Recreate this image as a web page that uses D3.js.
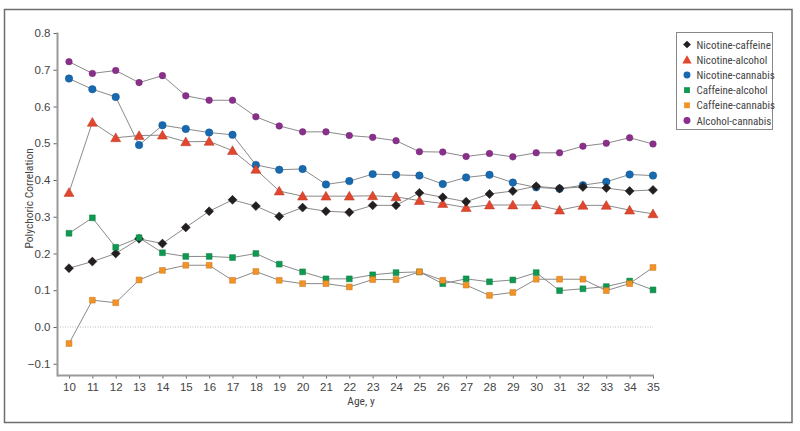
<!DOCTYPE html>
<html><head><meta charset="utf-8">
<script src="https://cdn.jsdelivr.net/npm/d3@7"></script>
<style>
body{margin:0;background:#fff;}
svg{display:block;font-family:"Liberation Sans Narrow","Arial Narrow","Roboto Condensed","Liberation Sans",sans-serif;}
</style></head>
<body><svg id="c" width="800" height="431"></svg>
<script>
const ages = d3.range(10, 36);
const nicotineCaffeine = [0.160,0.178,0.200,0.240,0.227,0.271,0.315,0.346,0.329,0.301,0.325,0.315,0.312,0.331,0.331,0.365,0.353,0.341,0.362,0.370,0.383,0.377,0.381,0.378,0.370,0.373];
const nicotineAlcohol = [0.366,0.557,0.515,0.521,0.522,0.504,0.505,0.480,0.429,0.370,0.356,0.356,0.356,0.357,0.354,0.344,0.336,0.325,0.332,0.332,0.332,0.318,0.331,0.331,0.318,0.308];
const nicotineCannabis = [0.676,0.647,0.626,0.495,0.549,0.539,0.529,0.523,0.441,0.428,0.430,0.388,0.397,0.416,0.414,0.412,0.389,0.407,0.414,0.393,0.380,0.376,0.386,0.395,0.415,0.412];
const caffeineAlcohol = [0.255,0.297,0.217,0.243,0.202,0.192,0.192,0.189,0.200,0.171,0.150,0.131,0.131,0.142,0.148,0.150,0.118,0.131,0.123,0.128,0.148,0.099,0.104,0.110,0.125,0.101];
const caffeineCannabis = [-0.045,0.073,0.066,0.128,0.154,0.168,0.168,0.127,0.151,0.127,0.118,0.118,0.109,0.129,0.129,0.150,0.127,0.114,0.086,0.094,0.130,0.130,0.130,0.099,0.118,0.162];
const alcoholCannabis = [0.722,0.690,0.698,0.665,0.684,0.629,0.617,0.617,0.572,0.547,0.531,0.531,0.521,0.516,0.507,0.477,0.476,0.464,0.472,0.463,0.474,0.474,0.492,0.500,0.515,0.498];
const yTicks = [-0.1,0,0.1,0.2,0.3,0.4,0.5,0.6,0.7,0.8];

const series = [
  {name:"Nicotine-caffeine", values:nicotineCaffeine, color:"#231f20", shape:"diamond"},
  {name:"Nicotine-alcohol", values:nicotineAlcohol, color:"#e2462c", shape:"triangle"},
  {name:"Nicotine-cannabis", values:nicotineCannabis, color:"#1769b0", shape:"bigcircle"},
  {name:"Caffeine-alcohol", values:caffeineAlcohol, color:"#0f9950", shape:"square"},
  {name:"Caffeine-cannabis", values:caffeineCannabis, color:"#f39325", shape:"square"},
  {name:"Alcohol-cannabis", values:alcoholCannabis, color:"#8b2f8c", shape:"circle"}
];
const drawOrder = [5,2,1,0,3,4];

const svg = d3.select("#c");
svg.append("rect").attr("x",4.5).attr("y",9.5).attr("width",787.5).attr("height",413)
  .attr("fill","none").attr("stroke","#6d6d6d").attr("stroke-width",1.5);

const x = d3.scaleLinear().domain([10,35]).range([69,653]);
const y = d3.scaleLinear().domain([-0.1,0.8]).range([363.75,33]);
const xLeft = 57.5, yBottom = 375.5;

svg.append("line").attr("x1",xLeft).attr("x2",653).attr("y1",y(0)).attr("y2",y(0))
  .attr("stroke","#aaa").attr("stroke-width",0.8).attr("stroke-dasharray","1,1.5");

const yAxis = d3.axisLeft(y).tickValues(yTicks).tickSize(4).tickPadding(3)
  .tickFormat(d => d3.format(".1f")(d).replace("-", "\u2212"));
const gy = svg.append("g").attr("transform",`translate(${xLeft},0)`).call(yAxis);
gy.select(".domain").remove();
svg.append("line").attr("x1",xLeft).attr("x2",xLeft).attr("y1",y(0.8)-0.5).attr("y2",yBottom+1)
  .attr("stroke","#9a9a9a").attr("stroke-width",2);
gy.selectAll(".tick line").attr("stroke","#666");
gy.selectAll("text").attr("font-size",11.5).attr("fill","#444");

const xAxis = d3.axisBottom(x).tickValues(ages).tickSize(3).tickPadding(4).tickFormat(d3.format("d"));
const gx = svg.append("g").attr("transform",`translate(0,${yBottom})`).call(xAxis);
gx.select(".domain").remove();
svg.append("line").attr("x1",xLeft).attr("x2",654).attr("y1",yBottom).attr("y2",yBottom)
  .attr("stroke","#9a9a9a").attr("stroke-width",2);
gx.selectAll(".tick line").attr("stroke","#666");
gx.selectAll("text").attr("font-size",11.5).attr("fill","#444");

svg.append("text").attr("x",(69+653)/2).attr("y",405).attr("text-anchor","middle")
  .attr("font-size",11.5).attr("fill","#444").text("Age, y");
svg.append("text").attr("transform",`translate(33,${y(0.35)}) rotate(-90)`).attr("text-anchor","middle")
  .attr("font-size",11.5).attr("fill","#444").text("Polychoric Correlation");

function symbolFor(shape, legend){
  switch(shape){
    case "diamond": return d3.symbol().type(d3.symbolSquare).size(legend?30:40);
    case "triangle": return d3.symbol().type(d3.symbolTriangle).size(legend?38:44);
    case "bigcircle": return d3.symbol().type(d3.symbolCircle).size(legend?38:44);
    case "circle": return d3.symbol().type(d3.symbolCircle).size(legend?38:34);
    case "square": return d3.symbol().type(d3.symbolSquare).size(legend?34:34);
  }
}
const rot = s => s==="diamond" ? " rotate(45)" : "";
const dy = s => s==="triangle" ? 1 : 0;

const line = d3.line().x((d,i)=>x(ages[i])).y(d=>y(d));
drawOrder.forEach(k => {
  const s = series[k];
  svg.append("path").attr("d", line(s.values)).attr("fill","none")
    .attr("stroke","#8a8a8a").attr("stroke-width",1);
});
drawOrder.forEach(k => {
  const s = series[k];
  const sym = symbolFor(s.shape, false);
  svg.append("g").selectAll("path").data(s.values).join("path")
    .attr("d", sym())
    .attr("transform",(d,i)=>`translate(${x(ages[i])},${y(d) + dy(s.shape)})${rot(s.shape)}`)
    .attr("fill", s.color)
    .attr("stroke", d3.color(s.color).darker(0.6)).attr("stroke-width",0.5);
});

const lg = svg.append("g");
lg.append("rect").attr("x",676.5).attr("y",32.5).attr("width",96).attr("height",97)
  .attr("fill","#fff").attr("stroke","#888").attr("stroke-width",1);
series.forEach((s,i) => {
  const yy = 44.5 + i*15.2;
  const sym = symbolFor(s.shape, true);
  lg.append("path").attr("d",sym()).attr("transform",`translate(687,${yy + dy(s.shape)})${rot(s.shape)}`)
    .attr("fill",s.color);
  lg.append("text").attr("x",696.5).attr("y",yy+4).attr("font-size",11).attr("fill","#444").text(s.name);
});
</script></body></html>
